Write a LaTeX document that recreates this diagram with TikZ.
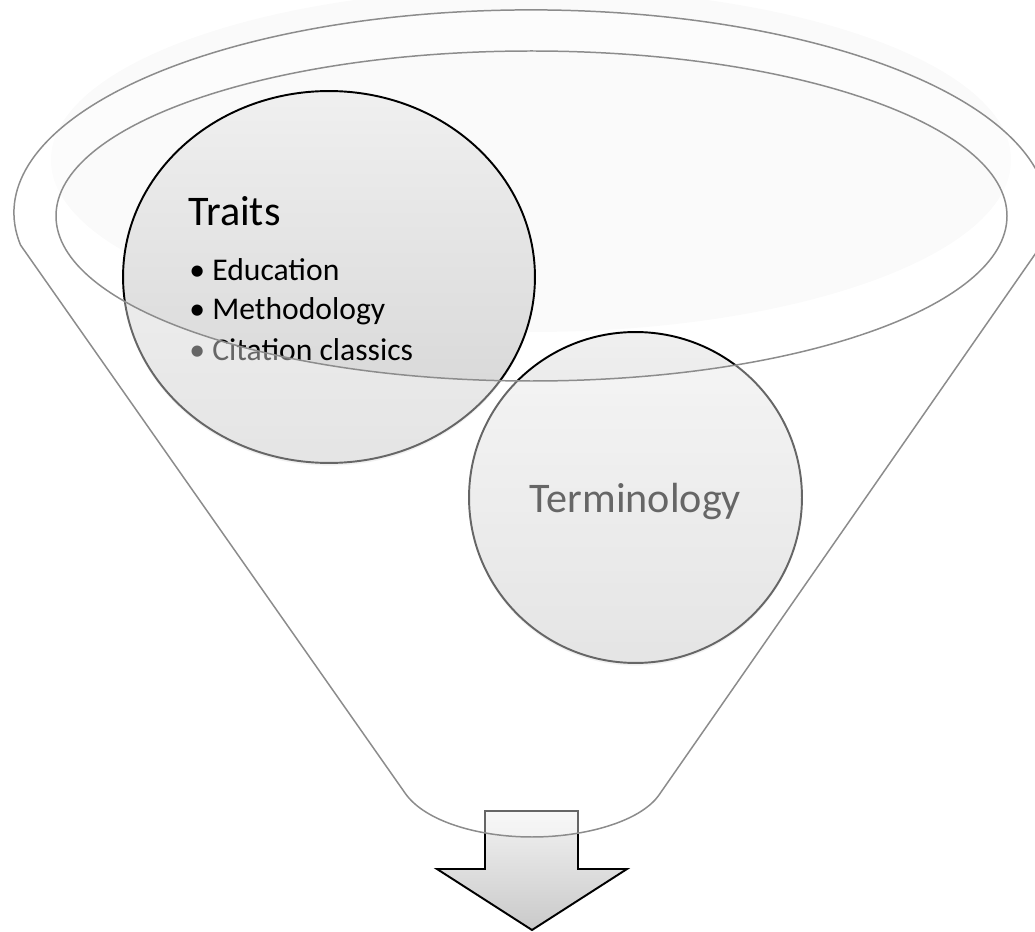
\documentclass[tikz,border=0pt]{standalone}
\usepackage{fontspec}
\setmainfont{Carlito}
\usetikzlibrary{shapes.geometric,shadows}

\newcommand{\funnelshape}{(405,793) -- (20.5,245) arc[start angle=170.9, end angle=369.1, x radius=517, y radius=203]
  -- (659,795) .. controls (640,822) and (584,837) .. (532,837) .. controls (480,837) and (425,822) .. (405,793) -- cycle}

\begin{document}
\begin{tikzpicture}[x=0.02cm,y=-0.02cm,
    funnelline/.style={draw=black!45,line width=0.85pt},
    bubble/.style={ellipse,draw=black,line width=1.1pt,top color=black!6,bottom color=black!17,
      drop shadow={opacity=0.18,shadow xshift=0pt,shadow yshift=-1.5pt}},
    bigtext/.style={font=\fontsize{24}{28}\selectfont},
    itemtext/.style={font=\fontsize{18}{22}\selectfont,inner sep=0pt,anchor=base west}]
    \useasboundingbox (0,0) rectangle (1035,932);
    \fill[black!2] (531,160) ellipse [x radius=480, y radius=172];
    \draw[line width=1.1pt,line join=miter,top color=black!5,bottom color=black!21]
      (485,811) -- (578,811) -- (578,869) -- (627,869) -- (532,930) -- (437,869) -- (485,869) -- cycle;
    \node[bubble,minimum width=8.24cm,minimum height=7.44cm] (traits) at (329,277) {};
    \node[bigtext,inner sep=0pt,anchor=base west] (traitshead) at (188,226) {Traits};
    \node[itemtext] (edu) at (189,281) {\makebox[0.46cm][l]{•}Education};
    \node[itemtext] (method) at (189,320) {\makebox[0.46cm][l]{•}Methodology};
    \node[itemtext] (cite) at (189,361) {\makebox[0.46cm][l]{•}Citation classics};
    \node[bubble,bigtext,text depth=0pt,minimum width=6.66cm,minimum height=6.62cm] (terms) at (635.5,497.5) {Terminology};
    \fill[white,opacity=0.4,even odd rule] \funnelshape (531.5,216) ellipse [x radius=475.5, y radius=165];
    \draw[funnelline] \funnelshape;
    \draw[funnelline] (531.5,216) ellipse [x radius=475.5, y radius=165];
\end{tikzpicture}
\end{document}
